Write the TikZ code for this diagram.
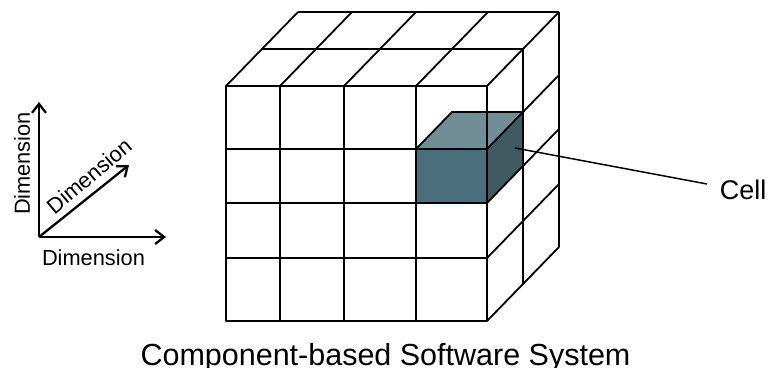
\documentclass[tikz,border=0pt]{standalone}
\usepackage{fontspec}
\setmainfont{Liberation Sans}
\usetikzlibrary{arrows.meta}
\definecolor{cellfront}{HTML}{4B6E7C}
\definecolor{celltop}{HTML}{718D96}
\definecolor{cellside}{HTML}{405A62}

\begin{document}
\begin{tikzpicture}[x=1pt,y=-1pt,line join=round,
  gridline/.style={line width=1.8pt},
  axis/.style={line width=2.3pt,-{Straight Barb[length=9pt,width=14pt]}},
  lbl/.style={inner sep=0pt,font=\fontsize{21.8}{24}\selectfont}]
\useasboundingbox (0,0) rectangle (770,367);
% the three axes
  \coordinate (o) at (39,237);
  \coordinate (ox) at (166,237);
  \coordinate (oy) at (39,102);
  \coordinate (oz) at (129,165);
  \draw [axis] (o) -- (ox);
  \draw [axis] (o) -- (oy);
  \draw [axis] (o) -- (oz);
  \node (dimx) at (93.5,257.5) [lbl] {Dimension};
  \node (dimy) at (22,163.5) [lbl,rotate=90] {Dimension};
  \node (dimz) at (89,176) [lbl,rotate=40] {Dimension};
% the shaded cell
  \fill [cellfront] (416,149) rectangle (487,203);
  \fill [cellside] (487,149) -- (523,112) -- (523,166) -- (487,203) -- cycle;
  \fill [celltop] (416,149) -- (452,112) -- (523,112) -- (487,149) -- cycle;
% front face
  \draw [gridline] (226,86) rectangle (487,321);
  \draw [gridline] (280,86) -- (280,321) (344,86) -- (344,321) (416,86) -- (416,321);
  \draw [gridline] (226,149) -- (487,149) (226,203) -- (487,203) (226,258) -- (487,258);
% top face
  \draw [gridline] (226,86) -- (298,12) (280,86) -- (352,12) (344,86) -- (416,12)
    (416,86) -- (488,12) (487,86) -- (559,12);
  \draw [gridline] (262,49) -- (523,49) (298,12) -- (559,12);
% right face
  \draw [gridline] (487,149) -- (559,75) (487,203) -- (559,129) (487,258) -- (559,184)
    (487,321) -- (559,247);
  \draw [gridline] (523,49) -- (523,284) (559,12) -- (559,247);
  \draw [gridline] (416,149) -- (452,112) -- (523,112);
% label of the cell
  \coordinate (cellpt) at (515,148);
  \coordinate (celltip) at (707,184);
  \node (cell) at (743,189.5) [inner sep=0pt,font=\fontsize{27}{30}\selectfont] {Cell};
  \draw [line width=1.5pt] (cellpt) -- (celltip);
  \node (system) at (385.5,365) [anchor=base,inner sep=0pt,font=\fontsize{30.5}{34}\selectfont]
    {Component-based Software System};
\end{tikzpicture}
\end{document}
